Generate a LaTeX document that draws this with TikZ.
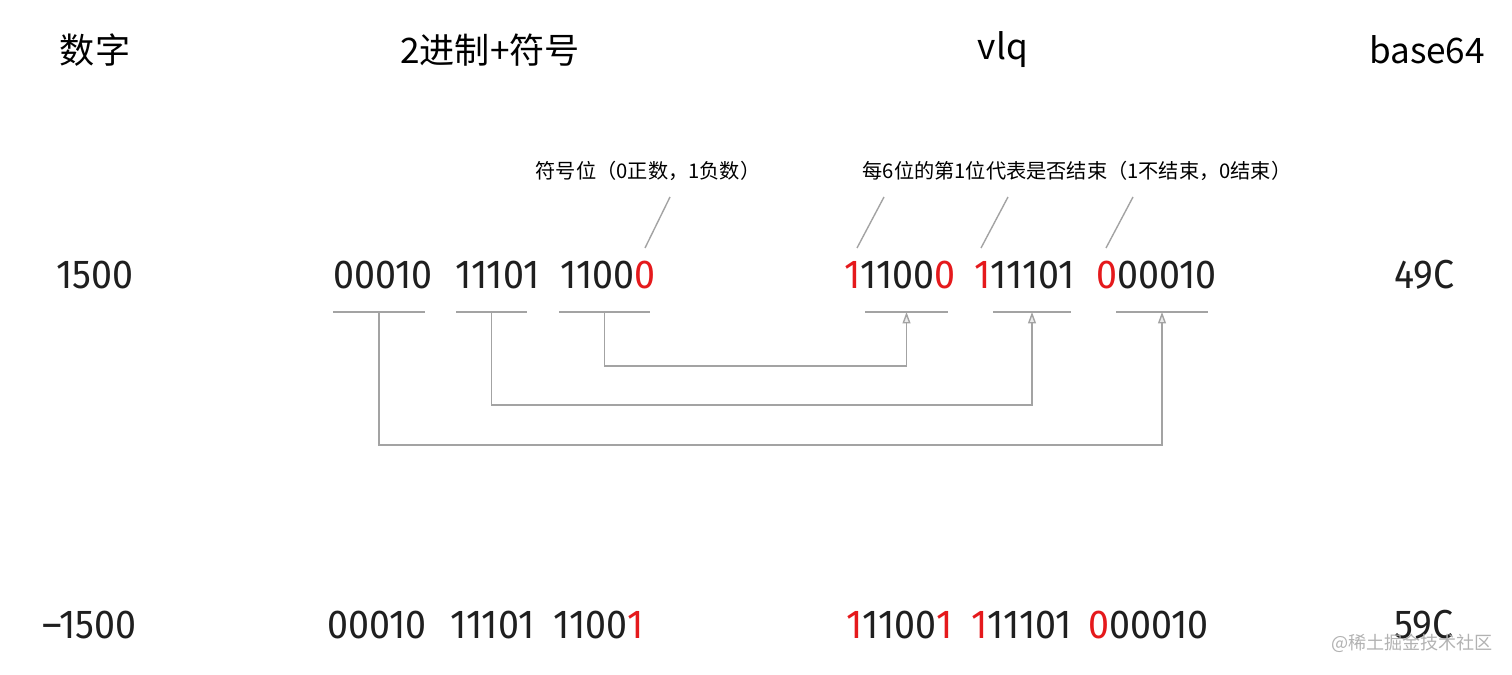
\documentclass[tikz,border=0pt]{standalone}
\usepackage{fontspec}
\setmainfont{Noto Sans CJK SC}
\newfontfamily\digitfont[Numbers={Proportional,Lining}, FakeStretch=0.93]{Fira Sans}
\usetikzlibrary{arrows.meta}
\definecolor{bitred}{HTML}{E5191C}
\definecolor{linegray}{HTML}{A3A3A3}
\newcommand{\rbit}[1]{\textcolor{bitred}{#1}}

\begin{document}
\begin{tikzpicture}[x=0.02cm, y=-0.02cm,
    head/.style={font=\fontsize{20}{24}\selectfont, inner sep=0pt},
    num/.style={font=\digitfont\fontsize{23}{28}\selectfont, inner sep=0pt, anchor=west, text=black!88},
    note/.style={font=\fontsize{11.5}{14}\selectfont, inner sep=0pt},
    bar/.style={linegray, line width=1.1pt},
    wire/.style={linegray, line width=0.8pt},
    tip/.style={-{Triangle[length=6.5pt, width=4.5pt, fill=gray!15]}}]
    \useasboundingbox (0, 0) rectangle (1512, 675);

    \node[head] (hdec) at (95, 50) {数字};
    \node[head] (hbin) at (490, 50) {2进制+符号};
    \node[head] (hvlq) at (1003, 50) {vlq};
    \node[head] (hb64) at (1427, 50) {base64};

    \node[note] (nsign) at (648, 171) {符号位（0正数，1负数）};
    \node[note] (ncont) at (1077, 171) {每6位的第1位代表是否结束（1不结束，0结束）};
    \draw[wire] (670, 197) -- (645, 248);
    \draw[wire] (884, 197) -- (857, 248);
    \draw[wire] (1008, 197) -- (981, 248);
    \draw[wire] (1133, 197) -- (1106, 248);

    \node[num] (p0) at (56, 275) {1500};
    \node[num] (p1) at (333, 275) {00010};
    \node[num] (p2) at (455, 275) {11101};
    \node[num] (p3) at (560, 275) {1100\rbit{0}};
    \node[num] (p4) at (844, 275) {\rbit{1}1100\rbit{0}};
    \node[num] (p5) at (974, 275) {\rbit{1}11101};
    \node[num] (p6) at (1096, 275) {\rbit{0}00010};
    \node[num] (p7) at (1394, 275) {49C};

    \foreach \name/\l/\r in {b1/333/425, b2/456/527, b3/559/650,
                              v1/865/948, v2/993/1071, v3/1116/1208}
        \draw[bar] (\l, 312) -- (\r, 312) coordinate[midway] (\name);

    \draw[wire, tip] (b3) -- ++(0, 54) -| (v1);
    \draw[wire, tip] (b2) -- ++(0, 93) -| (v2);
    \draw[wire, tip] (b1) -- ++(0, 133) -| (v3);

    \node[num] (n0) at (42, 625) {–1500};
    \node[num] (n1) at (327, 625) {00010};
    \node[num] (n2) at (450, 625) {11101};
    \node[num] (n3) at (553, 625) {1100\rbit{1}};
    \node[num] (n4) at (846, 625) {\rbit{1}1100\rbit{1}};
    \node[num] (n5) at (971, 625) {\rbit{1}11101};
    \node[num] (n6) at (1088, 625) {\rbit{0}00010};
    \node[num] (n7) at (1394, 625) {59C};

    \node[note, font=\fontsize{10.3}{12}\selectfont, text=gray!60] (mark) at (1412, 643) {@稀土掘金技术社区};
\end{tikzpicture}
\end{document}
